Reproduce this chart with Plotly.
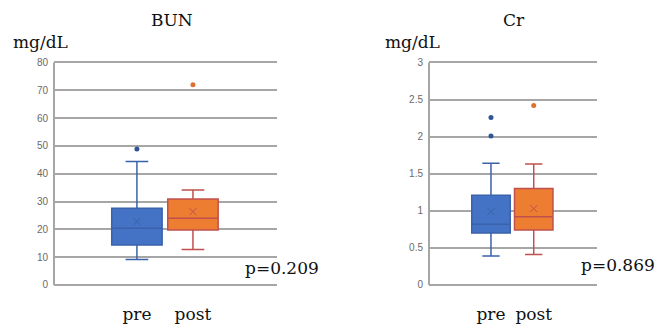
import plotly.graph_objects as go

categories = ["pre", "post"]

# BUN (mg/dL) box statistics
bun_q1 = [14.4, 19.8]
bun_median = [20.4, 24.0]
bun_q3 = [27.6, 30.9]
bun_lower = [9.2, 12.8]
bun_upper = [44.4, 34.2]
bun_mean = [22.8, 26.4]
bun_outliers = [[48.9], [72.0]]

# Cr (mg/dL) box statistics
cr_q1 = [0.70, 0.74]
cr_median = [0.82, 0.92]
cr_q3 = [1.21, 1.30]
cr_lower = [0.39, 0.41]
cr_upper = [1.64, 1.63]
cr_mean = [0.99, 1.03]
cr_outliers = [[2.01, 2.26], [2.42]]

y_ticks_bun = [0, 10, 20, 30, 40, 50, 60, 70, 80]
y_ticks_cr = [0, 0.5, 1, 1.5, 2, 2.5, 3]

fills = ["#4472C4", "#ED7D31"]
edges = ["#3A62AA", "#C0504D"]
dots = ["#2F5597", "#E07030"]

SERIF = "DejaVu Serif"
GRID = "#A6A6A6"
fig = go.Figure()

def add_panel(xa, ya, q1, med, q3, lo, hi, mean, outs):
    for i, c in enumerate(categories):
        fig.add_trace(go.Box(
            x=[i], q1=[q1[i]], median=[med[i]], q3=[q3[i]],
            lowerfence=[lo[i]], upperfence=[hi[i]],
            width=0.9, whiskerwidth=0.45,
            fillcolor=fills[i], line=dict(color=edges[i], width=1.5),
            boxpoints=False, xaxis=xa, yaxis=ya, showlegend=False,
        ))
        fig.add_trace(go.Scatter(
            x=[i], y=[mean[i]], mode="markers",
            marker=dict(symbol="x-thin", size=7, line=dict(color=edges[i], width=1)),
            xaxis=xa, yaxis=ya, showlegend=False,
        ))
        fig.add_trace(go.Scatter(
            x=[i] * len(outs[i]), y=outs[i], mode="markers",
            marker=dict(size=5, color=dots[i]),
            xaxis=xa, yaxis=ya, showlegend=False,
        ))

add_panel("x", "y", bun_q1, bun_median, bun_q3, bun_lower, bun_upper, bun_mean, bun_outliers)
add_panel("x2", "y2", cr_q1, cr_median, cr_q3, cr_lower, cr_upper, cr_mean, cr_outliers)

W, H = 655, 324
top_px, bot_px = 62.5, 285.0
pad = (bot_px - top_px) / 80.0  # one BUN unit in px -> padding
ydom = [1 - (bot_px + pad) / H, 1 - (top_px - pad) / H]
bun_max, cr_max = y_ticks_bun[-1], y_ticks_cr[-1]
bun_pad, cr_pad = bun_max / 80.0, cr_max / 80.0

xcommon = dict(
    tickvals=[0, 1], ticktext=categories, showgrid=False, zeroline=False,
    showline=False, ticks="", ticklabelstandoff=14, automargin=False,
    tickfont=dict(family=SERIF, size=17, color="#111111"),
)
ycommon = dict(
    showgrid=True, gridcolor=GRID, gridwidth=2, zeroline=False,
    showline=False, ticks="", automargin=False,
    tickfont=dict(family="Liberation Sans", size=10, color="#6A6A6A"),
    ticklabelstandoff=5,
)

fig.update_layout(
    width=W, height=H, margin=dict(l=0, r=0, t=0, b=0),
    paper_bgcolor="white", plot_bgcolor="white",
    xaxis=dict(domain=[54 / W, 277 / W], range=[-1.48, 2.5], **xcommon),
    xaxis2=dict(domain=[429 / W, 597 / W], range=[-1.45, 2.48], anchor="y2", **xcommon),
    yaxis=dict(domain=ydom, range=[-bun_pad, bun_max + bun_pad], tickvals=y_ticks_bun, anchor="x", **ycommon),
    yaxis2=dict(domain=ydom, range=[-cr_pad, cr_max + cr_pad], tickvals=y_ticks_cr, anchor="x2", **ycommon),
)

# left axis lines from 0 to the top tick
fig.add_shape(type="line", xref="x domain", yref="y", x0=0, x1=0, y0=0, y1=bun_max,
              line=dict(color=GRID, width=2))
fig.add_shape(type="line", xref="x2 domain", yref="y2", x0=0, x1=0, y0=0, y1=cr_max,
              line=dict(color=GRID, width=2))

ann_font = dict(family=SERIF, size=17, color="#111111")
for text, x, y in [("BUN", 172, 20), ("Cr", 514, 20), ("mg/dL", 40, 42), ("mg/dL", 412, 42),
                   ("p=0.209", 282, 268), ("p=0.869", 618, 265)]:
    fig.add_annotation(text=text, x=x / W, y=1 - y / H, xref="paper", yref="paper",
                       showarrow=False, xanchor="center", yanchor="middle", font=ann_font)

fig.write_html(
    "out.html",
    config={"responsive": False, "displayModeBar": False},
    post_script="document.body.style.margin='0';document.body.style.overflow='hidden';",
)
